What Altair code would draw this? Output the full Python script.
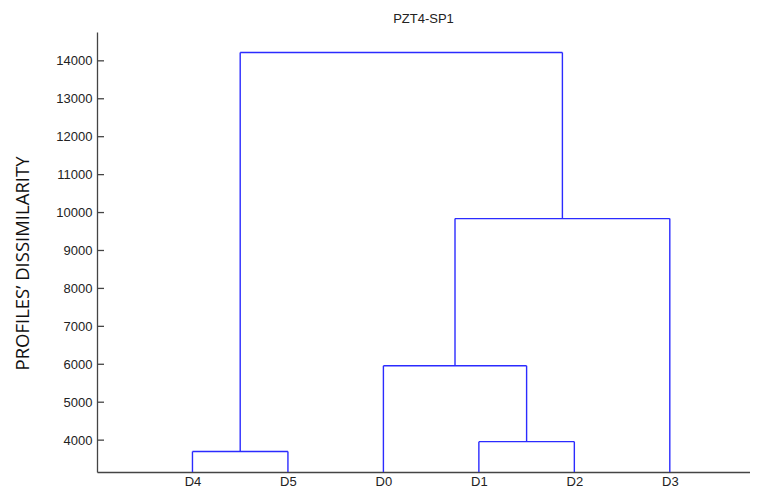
import altair as alt
import pandas as pd

# ---- data ----
leaves = ["D4", "D5", "D0", "D1", "D2", "D3"]
merge_names = ["C1", "C2", "C3", "C4", "C5"]
merge_left = ["D4", "D1", "D0", "C3", "C1"]
merge_right = ["D5", "D2", "C2", "D3", "C4"]
merge_height = [3700, 3960, 5960, 9840, 14220]
y_ticks = [4000, 5000, 6000, 7000, 8000, 9000, 10000, 11000, 12000, 13000, 14000]

# ---- build dendrogram link segments ----
pos = {name: i + 1 for i, name in enumerate(leaves)}
hgt = {name: 0 for name in leaves}
rows = []
for name, l, r, h in zip(merge_names, merge_left, merge_right, merge_height):
    xl, xr = pos[l], pos[r]
    rows.append({"x": xl, "x2": xl, "y": hgt[l], "y2": h})
    rows.append({"x": xr, "x2": xr, "y": hgt[r], "y2": h})
    rows.append({"x": xl, "x2": xr, "y": h, "y2": h})
    pos[name] = (xl + xr) / 2
    hgt[name] = h
seg = pd.DataFrame(rows)

label_expr = "['', 'D4', 'D5', 'D0', 'D1', 'D2', 'D3'][datum.value] || ''"

xscale = alt.Scale(domain=[0, 6.84], nice=False, zero=False)
yscale = alt.Scale(domain=[3160, 14760], nice=False, zero=False)

links = alt.Chart(seg).mark_rule(color="#2b2bff", strokeWidth=1.4, clip=True).encode(
    x=alt.X("x:Q", scale=xscale,
            axis=alt.Axis(title=None, values=[1, 2, 3, 4, 5, 6], labelExpr=label_expr,
                          tickSize=0, labelPadding=3, labelFontSize=13,
                          labelFont="Liberation Sans", labelColor="#222",
                          domainColor="#444", domainWidth=1.3, grid=False)),
    x2="x2:Q",
    y=alt.Y("y:Q", scale=yscale,
            axis=alt.Axis(title="PROFILES’ DISSIMILARITY", values=y_ticks, format="d",
                          tickSize=0, labelPadding=5, labelFontSize=13,
                          labelFont="Liberation Sans", labelColor="#222",
                          domainColor="#444", domainWidth=1.3, grid=False,
                          titleFont="Open Sans", titleFontSize=18.5, titleFontWeight="normal",
                          titleColor="#111", titleAngle=-90, titleX=-75, titleY=231,
                          titleAlign="center", titleBaseline="middle")),
    y2="y2:Q",
)

ticks = alt.Chart(pd.DataFrame({"t": y_ticks})).mark_rule(color="#444", strokeWidth=1.3).encode(
    y=alt.Y("t:Q", scale=yscale),
    x=alt.value(0),
    x2=alt.value(7),
)

chart = alt.layer(links, ticks).properties(
    width=653,
    height=440,
    title=alt.TitleParams("PZT4-SP1", fontSize=13, font="Liberation Sans",
                          fontWeight="normal", color="#222", offset=6, anchor="middle"),
    autosize=alt.AutoSizeParams(type="none"),
    padding={"left": 89, "top": 24, "right": 0, "bottom": 18},
).configure_view(stroke=None)

chart.save("out.html", embed_options={"renderer": "svg", "actions": False})
